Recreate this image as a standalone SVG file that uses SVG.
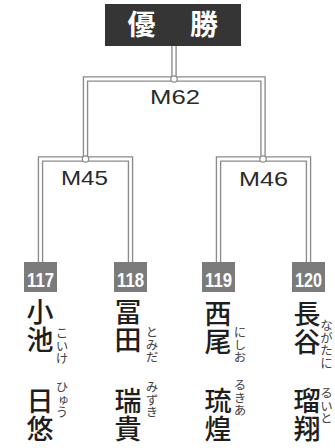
<svg xmlns="http://www.w3.org/2000/svg" xmlns:xlink="http://www.w3.org/1999/xlink" width="335" height="448" viewBox="0 0 335 448">
<style>
.bg{fill:#ffffff}
.outer{fill:none;stroke:#8a8a8a;stroke-width:5.5}
.inner{fill:none;stroke:#ffffff;stroke-width:2.8}
.dot{fill:#ffffff;stroke:#8a8a8a;stroke-width:1.2}
.title-box{fill:#353535}
.title{font-family:"Noto Sans CJK JP",sans-serif;font-weight:bold;font-size:28px;fill:#ffffff}
.match{font-family:"Liberation Sans",Arial,sans-serif;font-size:21px;fill:#2a2a2a}
.seed-box{fill:#7b7b7b}
.seed{font-family:"Liberation Sans",Arial,sans-serif;font-weight:bold;font-size:21px;fill:#ffffff}
.name{font-family:"Noto Sans CJK JP",sans-serif;font-weight:500;font-size:27px;fill:#1e1e1e;writing-mode:vertical-rl;letter-spacing:1px}
.ruby{font-family:"Noto Sans CJK JP",sans-serif;font-size:12.5px;fill:#444444;writing-mode:vertical-rl}
</style>
<defs>
<path id="c1" d="M85.5,159 V79 H263 V159 M174,46 V79"/>
<path id="c2" d="M40.5,262 V159 H130.5 V262"/>
<path id="c3" d="M218.5,262 V159 H308.5 V262"/>
</defs>
<rect class="bg" x="0" y="0" width="335" height="448"/>
<g id="connectors">
<use xlink:href="#c1" class="outer"/>
<use xlink:href="#c2" class="outer"/>
<use xlink:href="#c3" class="outer"/>
<use xlink:href="#c1" class="inner"/>
<use xlink:href="#c2" class="inner"/>
<use xlink:href="#c3" class="inner"/>
<circle class="dot" cx="174" cy="79" r="3.2"/>
<circle class="dot" cx="85.5" cy="159" r="3.2"/>
<circle class="dot" cx="263" cy="159" r="3.2"/>
</g>
<g id="winner">
<rect class="title-box" x="105" y="4" width="136" height="42"/>
<text class="title" y="35"><tspan x="141.5" text-anchor="middle">優</tspan><tspan x="204" text-anchor="middle">勝</tspan></text>
</g>
<g id="m62"><text class="match" x="150" y="104" textLength="50" lengthAdjust="spacingAndGlyphs">M62</text></g>
<g id="m45"><text class="match" x="61" y="185" textLength="47" lengthAdjust="spacingAndGlyphs">M45</text></g>
<g id="m46"><text class="match" x="239" y="186" textLength="49" lengthAdjust="spacingAndGlyphs">M46</text></g>
<g id="p117">
<rect class="seed-box" x="24" y="262" width="33" height="30"/>
<text class="seed" x="27" y="287" textLength="27" lengthAdjust="spacingAndGlyphs">117</text>
<text class="name" x="40" y="298">小池</text>
<text class="ruby" x="62" y="327">こいけ</text>
<text class="name" x="40" y="387">日悠</text>
<text class="ruby" x="62" y="381">ひゅう</text>
</g>
<g id="p118">
<rect class="seed-box" x="114" y="262" width="33" height="30"/>
<text class="seed" x="117" y="287" textLength="27" lengthAdjust="spacingAndGlyphs">118</text>
<text class="name" x="128" y="298">冨田</text>
<text class="ruby" x="152" y="326">とみだ</text>
<text class="name" x="128" y="387">瑞貴</text>
<text class="ruby" x="152" y="381">みずき</text>
</g>
<g id="p119">
<rect class="seed-box" x="202" y="262" width="33" height="30"/>
<text class="seed" x="205" y="287" textLength="27" lengthAdjust="spacingAndGlyphs">119</text>
<text class="name" x="218" y="300">西尾</text>
<text class="ruby" x="240" y="326">にしお</text>
<text class="name" x="218" y="387">琉煌</text>
<text class="ruby" x="240" y="379">るきあ</text>
</g>
<g id="p120">
<rect class="seed-box" x="292" y="262" width="33" height="30"/>
<text class="seed" x="295" y="287" textLength="27" lengthAdjust="spacingAndGlyphs">120</text>
<text class="name" x="307" y="300">長谷</text>
<text class="ruby" x="326.5" y="319">ながたに</text>
<text class="name" x="307" y="387">瑠翔</text>
<text class="ruby" x="326.5" y="387">るいと</text>
</g>
</svg>
